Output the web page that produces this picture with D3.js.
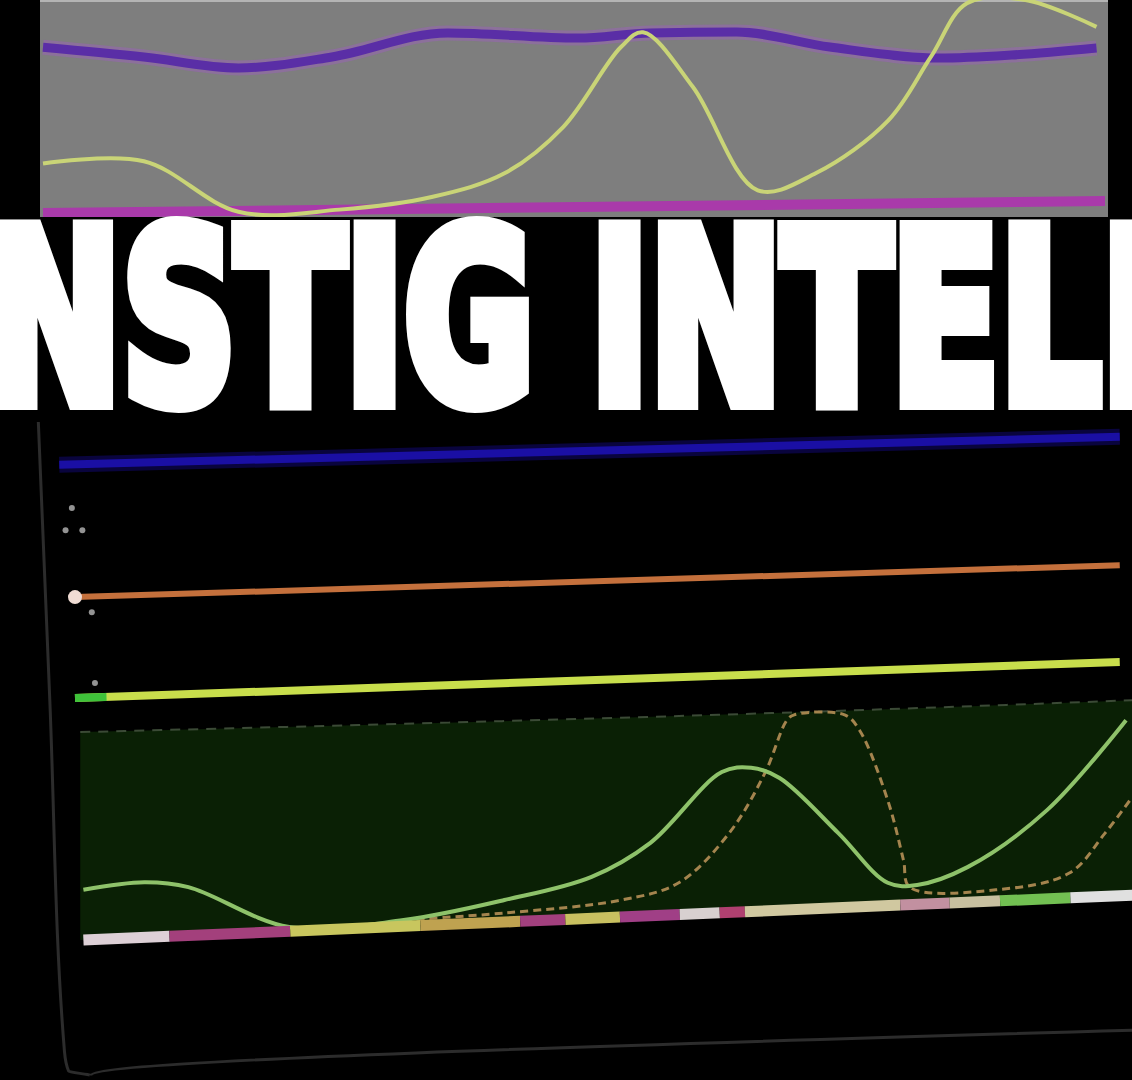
<!DOCTYPE html>
<html>
<head>
<meta charset="utf-8">
<script src="https://cdn.jsdelivr.net/npm/d3@7"></script>
<style>
  body { margin: 0; background: #000; }
  svg { display: block; }
</style>
</head>
<body>
<div id="chart"></div>
<script>
// ---- upper screen (x: 0-100, y: 0-100) ----
const topYellow = [[0,24],[9.5,25],[18.4,1.5],[27.9,2.5],[36.7,8.5],[43.5,19.5],[49,41],
  [54.4,78],[56.5,85],[61.2,59.5],[67.3,11.5],[72.8,19.5],[79.6,44],[83.6,73.5],[87,98.5],
  [92.5,100],[99.2,87.5]];
const topPurple = [[0,78],[9.5,73.5],[18.4,68.4],[27.2,73.5],[38.1,84.7],[50.4,82.3],
  [57.2,84.7],[65.3,85.1],[74.1,78.1],[84.4,73],[91.2,74.4],[99.2,77.7]];
const topMagenta = [[0,0.9],[100,6.5]];

// ---- lower screen (x: 0-100, y: 0-100) ----
const lowBlue = [[-1.5,91.7],[99.5,96.9]];
const lowOrange = [[0,67.2],[99.5,73.1]];
const lowYellow = [[0,48.5],[99.5,55.2]];
const lowYellowStart = [[0,48.5],[3,48.7]];
const greenBand = [[0.5,42.2,3.7],[69,45.9,9.4],[100.7,48.1,12.0]];
const lowWave = [[0.8,13],[6.6,14.4],[10.8,13.5],[20.4,6.1],[31.3,7.4],[40.9,11.1],[49.2,15.4],
  [54.8,21.7],[61.6,34.8],[64.4,35.6],[67.1,33.7],[72.7,23.5],[77.4,14.3],[80.2,13.9],
  [85,17.2],[92.6,27.8],[100.1,44.4]];
const lowDashed = [[31.3,7.4],[40.9,8.7],[52,11.1],[57.5,14.3],[62.3,23.5],[65.7,34.6],
  [67.8,44.4],[68.5,45.4],[73.3,45.4],[74.7,42.6],[77.4,29.6],[78.9,18.5],[79.5,13.5],
  [87.7,13],[94.7,16.1],[98.1,23.5],[100.7,30.2]];
const baseEnds = [[0.8,3.7],[100.7,12.0]];
const baseBreaks = [0.8, 9, 20.5, 32.9, 42.4, 46.7, 51.9, 57.6, 61.4, 63.8, 78.6, 83.3, 88.1, 94.8, 100.7];
const baseColors = ["#ddd0d6","#a3407c","#c8c65e","#bfa250","#a2407e","#c8c060","#a03f86",
  "#d8d0d0","#b04070","#d0c8a0","#c290a0","#c8c0a0","#72c052","#e0e0e0"];
const frame = [[-3.5,100],[-2.4,48.1],[-1.0,-17],[-0.6,-20.6],[1.5,-21.4],[100.7,-13]];
const dots = [[-0.3,83.7],[-0.9,79.6],[0.7,79.6],[1.6,64.4],[1.9,51.3]];

const bannerText = "KUNSTIG INTELLIGENS";

const W = 1132, H = 1080;
const svg = d3.select("#chart").append("svg")
  .attr("width", W).attr("height", H)
  .style("background", "#000");

// upper screen
const xTop = d3.scaleLinear().domain([0, 100]).range([43, 1105]);
const yTop = d3.scaleLinear().domain([0, 100]).range([215, 0]);
const lineTop = d3.line().x(d => xTop(d[0])).y(d => yTop(d[1]));

const gTop = svg.append("g");
gTop.append("rect")
  .attr("x", 40).attr("y", 0).attr("width", 1068).attr("height", 220)
  .attr("fill", "#7e7e7e");
gTop.append("rect")
  .attr("x", 40).attr("y", 0).attr("width", 1068).attr("height", 2)
  .attr("fill", "#b4b4b4");

gTop.append("path").datum(topMagenta)
  .attr("d", lineTop)
  .attr("fill", "none").attr("stroke", "#a93aaa").attr("stroke-width", 10);

gTop.append("path").datum(topPurple)
  .attr("d", lineTop.curve(d3.curveMonotoneX))
  .attr("fill", "none").attr("stroke", "#9a62b8").attr("stroke-width", 15)
  .attr("opacity", 0.5);
gTop.append("path").datum(topPurple)
  .attr("d", lineTop.curve(d3.curveMonotoneX))
  .attr("fill", "none").attr("stroke", "#5a2ea6").attr("stroke-width", 9);

gTop.append("path").datum(topYellow)
  .attr("d", lineTop.curve(d3.curveCatmullRom))
  .attr("fill", "none").attr("stroke", "#c9d477").attr("stroke-width", 4);

// lower screen
const xLow = d3.scaleLinear().domain([0, 100]).range([75, 1125]);
const yLow = d3.scaleLinear().domain([0, 100]).range([960, 420]);
const lineLow = d3.line().x(d => xLow(d[0])).y(d => yLow(d[1]));

const gLow = svg.append("g");

gLow.append("path").datum(frame)
  .attr("d", lineLow.curve(d3.curveMonotoneY))
  .attr("fill", "none").attr("stroke", "#2c2c2c").attr("stroke-width", 3);
lineLow.curve(d3.curveLinear);

gLow.append("path").datum(greenBand)
  .attr("d", d3.area().x(d => xLow(d[0])).y0(d => yLow(d[2])).y1(d => yLow(d[1]))
    .curve(d3.curveMonotoneX))
  .attr("fill", "#0a2005");
gLow.append("path").datum(greenBand)
  .attr("d", d3.line().x(d => xLow(d[0])).y(d => yLow(d[1])).curve(d3.curveMonotoneX))
  .attr("fill", "none").attr("stroke", "#3b4a36").attr("stroke-width", 2)
  .attr("stroke-dasharray", "10,8");

gLow.append("path").datum(lowBlue)
  .attr("d", lineLow)
  .attr("fill", "none").attr("stroke", "#12087a").attr("stroke-width", 16).attr("opacity", 0.5);
gLow.append("path").datum(lowBlue)
  .attr("d", lineLow)
  .attr("fill", "none").attr("stroke", "#1a0fa4").attr("stroke-width", 8);

gLow.append("path").datum(lowOrange)
  .attr("d", lineLow)
  .attr("fill", "none").attr("stroke", "#c4703c").attr("stroke-width", 6);
gLow.append("circle")
  .attr("cx", xLow(lowOrange[0][0])).attr("cy", yLow(lowOrange[0][1]))
  .attr("r", 7).attr("fill", "#f0dcd4");

gLow.append("path").datum(lowYellow)
  .attr("d", lineLow)
  .attr("fill", "none").attr("stroke", "#c8de4c").attr("stroke-width", 8);
gLow.append("path").datum(lowYellowStart)
  .attr("d", lineLow)
  .attr("fill", "none").attr("stroke", "#3fc23a").attr("stroke-width", 8);

gLow.selectAll(".dot").data(dots).join("circle")
  .attr("class", "dot")
  .attr("cx", d => xLow(d[0])).attr("cy", d => yLow(d[1]))
  .attr("r", 3).attr("fill", "#b8b8b8").attr("opacity", 0.8);

gLow.append("path").datum(lowDashed)
  .attr("d", lineLow.curve(d3.curveCatmullRom))
  .attr("fill", "none").attr("stroke", "#a4844e").attr("stroke-width", 3)
  .attr("stroke-dasharray", "8,5");

gLow.append("path").datum(lowWave)
  .attr("d", lineLow.curve(d3.curveCatmullRom))
  .attr("fill", "none").attr("stroke", "#8ec26a").attr("stroke-width", 4);

// multi-coloured base line
const baseY = d3.scaleLinear().domain(baseEnds.map(d => d[0])).range(baseEnds.map(d => d[1]));
const baseSegs = baseColors.map((c, i) => ({ x0: baseBreaks[i], x1: baseBreaks[i + 1], color: c }));
gLow.selectAll(".base").data(baseSegs).join("line")
  .attr("class", "base")
  .attr("x1", d => xLow(d.x0)).attr("y1", d => yLow(baseY(d.x0)))
  .attr("x2", d => xLow(d.x1)).attr("y2", d => yLow(baseY(d.x1)))
  .attr("stroke", d => d.color).attr("stroke-width", 11);

// banner (cropped by the screen edges, like the photo)
svg.append("rect")
  .attr("x", 0).attr("y", 217).attr("width", W).attr("height", 205)
  .attr("fill", "#000");

svg.append("text")
  .attr("x", -261)
  .attr("y", 402)
  .attr("textLength", 2010)
  .attr("lengthAdjust", "spacingAndGlyphs")
  .style("font-family", "'DejaVu Sans Condensed', 'DejaVu Sans', sans-serif")
  .style("font-weight", "bold")
  .style("font-size", "239px")
  .attr("fill", "#fff")
  .attr("stroke", "#fff")
  .attr("stroke-width", 16)
  .attr("stroke-linejoin", "miter")
  .text(bannerText);
</script>
</body>
</html>
